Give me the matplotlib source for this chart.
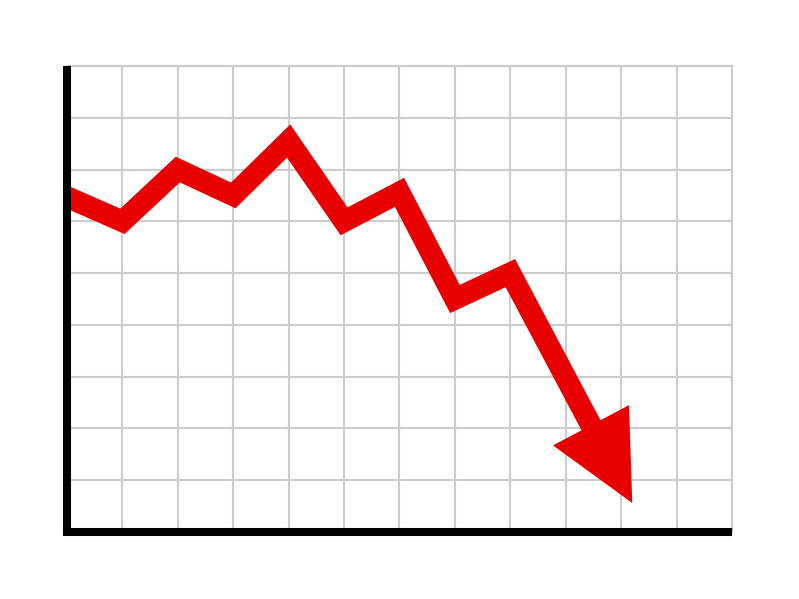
import numpy as np
from matplotlib import pyplot as plt
from matplotlib.patches import Polygon

# values (grid units)
x_vals = [0, 1, 2, 3, 4, 5, 6, 7, 8]
y_vals = [6.47, 6.0, 7.0, 6.5, 7.55, 6.0, 6.56, 4.5, 5.0]
tip = (10.2, 0.56)          # arrow point
x_ticks = list(range(0, 13))
y_ticks = list(range(0, 10))

red = '#e80000'

fig = plt.figure(figsize=(7.99, 5.99), dpi=100)
ax = fig.add_axes([67 / 799, 67 / 599, 665 / 799, 466 / 599])
ax.set_xlim(0, 12)
ax.set_ylim(0, 9)
ax.set_xticks(x_ticks)
ax.set_yticks(y_ticks)
ax.tick_params(length=0, labelbottom=False, labelleft=False)
ax.grid(True, color='#cccccc', linewidth=1.5)
ax.set_axisbelow(True)

for side in ['top', 'right']:
    ax.spines[side].set_color('#cccccc')
    ax.spines[side].set_linewidth(1.5)
for side in ['left', 'bottom']:
    ax.spines[side].set_color('black')
    ax.spines[side].set_linewidth(5.8)
    ax.spines[side].set_zorder(5)
ax.spines['left'].set_capstyle('butt')
ax.spines['bottom'].set_capstyle('projecting')
ax.spines['bottom'].set_bounds(0, 11.93)

# arrow head, built in pixel space so it keeps its shape
to_px = ax.transData
p_last = to_px.transform((x_vals[-1], y_vals[-1]))
p_tip = to_px.transform(tip)
d = (p_tip - p_last) / np.hypot(*(p_tip - p_last))
n = np.array([-d[1], d[0]])
head_len, head_w = 88, 86
base = p_tip - d * head_len
corners = np.array([base + n * head_w / 2, p_tip, base - n * head_w / 2])
corners_data = to_px.inverted().transform(corners)
shaft_end = to_px.inverted().transform(base + d * 10)

xs = x_vals + [shaft_end[0]]
ys = y_vals + [shaft_end[1]]
ax.plot(xs, ys, color=red, linewidth=15.5, solid_joinstyle='miter',
        solid_capstyle='butt', zorder=3)
ax.add_patch(Polygon(corners_data, closed=True, color=red, zorder=3,
                     clip_on=False, linewidth=0))

plt.savefig('out.png', dpi=100)
